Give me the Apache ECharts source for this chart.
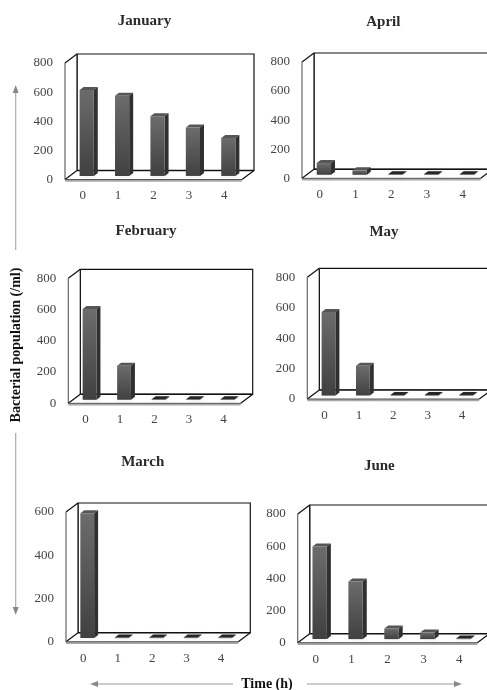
<!DOCTYPE html>
<html>
<head>
<meta charset="utf-8">
<style>html,body{margin:0;padding:0;background:#fff}#c{width:487px;height:690px;filter:blur(0.45px)}</style>
<script src="https://cdn.jsdelivr.net/npm/echarts@6/dist/echarts.min.js"></script>
</head>
<body>
<div id="c"></div>
<script>
const hours = ['0', '1', '2', '3', '4'];
const january  = [590, 551, 410, 332, 261];
const february = [580, 218, 3, 3, 3];
const march    = [578, 3, 3, 3, 3];
const april    = [80, 30, 3, 3, 3];
const may      = [548, 195, 3, 3, 3];
const june     = [576, 358, 66, 41, 3];
const yTitle = 'Bacterial population (/ml)';
const xTitle = 'Time (h)';

const panels = [
  {name:'January',  values:january,  max:800, l:65,    r:242,   t:63,    b:179.5, tx:144.5, ty:21.5},
  {name:'April',    values:april,    max:800, l:302,   r:480.7, t:62,    b:178.3, tx:383.3, ty:22.5},
  {name:'February', values:february, max:800, l:68.3,  r:240.7, t:278.3, b:403.3, tx:146,   ty:231.5},
  {name:'May',      values:may,      max:800, l:307.3, r:479.3, t:277.3, b:399,   tx:384,   ty:232.5},
  {name:'March',    values:march,    max:600, l:66,    r:238.3, t:512,   b:641.7, tx:142.7, ty:462.5},
  {name:'June',     values:june,     max:800, l:297.7, r:477.3, t:514,   b:642.7, tx:379.3, ty:466}
];
const DX = 12, DY = 9;
const serif = '"Liberation Serif", serif';

function poly(points, style, z2) {
  return {type:'polygon', shape:{points}, style, z2:z2 || 0};
}
function seg(x1, y1, x2, y2, stroke, lineWidth) {
  return {type:'line', shape:{x1, y1, x2, y2}, style:{stroke, lineWidth, fill:null}};
}
function renderFrame(params) {
  const c = params.coordSys;
  const l = c.x, r = c.x + c.width, t = c.y, b = c.y + c.height;
  const ink = '#111';
  return {type:'group', children:[
    {type:'rect', shape:{x:l + DX, y:t - DY, width:r - l, height:b - t}, style:{fill:'#fff', stroke:ink, lineWidth:1.2}},
    poly([[l,t],[l+DX,t-DY],[l+DX,b-DY],[l,b]], {fill:'#fff'}),
    poly([[l,b+2.2],[r,b+2.2],[r,b],[l,b]], {fill:'#a8a8a8'}),
    poly([[l,b],[l+DX,b-DY],[r+DX,b-DY],[r,b]], {fill:'#fff'}),
    seg(l, t, l + DX, t - DY, ink, 1.2),
    seg(l + DX, t - DY, l + DX, b - DY, ink, 1.2),
    seg(l, t, l, b, '#666', 1.2),
    seg(l, b, l + DX, b - DY, ink, 1.2),
    seg(l + DX, b - DY, r + DX, b - DY, ink, 1.4),
    seg(l, b, r, b, '#555', 1),
    seg(r, b, r + DX, b - DY, ink, 1.2)
  ]};
}
function renderBar(params, api) {
  const cat = api.value(0), val = api.value(1);
  const top = api.coord([cat, val]);
  const base = api.coord([cat, 0]);
  const w = api.size([1, 0])[0] * 0.4;
  const sx = DX / 3, sy = DY * 0.4;
  const x0 = top[0] + sx - w / 2, x1 = x0 + w;
  const yT = top[1] - sy, yB = base[1] - sy;
  const ox = DX / 3, oy = 3;
  const flat = yB - yT < 2;
  return {type:'group', children:[
    poly([[x0,yB],[x1,yB],[x1+ox,yB-oy],[x0+ox,yB-oy]], {fill:'rgba(0,0,0,0.25)', shadowBlur:4, shadowColor:'rgba(0,0,0,0.45)'}),
    poly([[x0,yT],[x0+ox,yT-oy],[x1+ox,yT-oy],[x1,yT]], {fill:flat ? '#262626' : '#565656'}),
    poly([[x1,yT],[x1+ox,yT-oy],[x1+ox,yB-oy],[x1,yB]], {fill:'#303030'}),
    {type:'rect', shape:{x:x0, y:yT, width:w, height:Math.max(yB - yT, 0.5)},
      style:{fill:new echarts.graphic.LinearGradient(0,0,0,1,[{offset:0,color:'#6c6c6c'},{offset:1,color:'#404040'}])}}
  ]};
}

const option = {
  animation:false,
  backgroundColor:'#fff',
  title:panels.map(p => ({
    text:p.name, left:p.tx, top:p.ty, padding:0, textAlign:'center', textVerticalAlign:'middle',
    textStyle:{fontFamily:serif, fontWeight:'bold', fontSize:15, color:'#2a2a2a'}
  })),
  grid:panels.map(p => ({left:p.l, top:p.t, width:p.r - p.l, height:p.b - p.t, containLabel:false})),
  xAxis:panels.map((p, i) => ({
    type:'category', gridIndex:i, data:hours,
    axisLine:{show:false}, axisTick:{show:false}, splitLine:{show:false},
    axisLabel:{margin:10, fontFamily:serif, fontSize:13, color:'#444'}
  })),
  yAxis:panels.map((p, i) => ({
    type:'value', gridIndex:i, min:0, max:p.max, interval:200,
    axisLine:{show:false}, axisTick:{show:false}, splitLine:{show:false},
    axisLabel:{margin:12, fontFamily:serif, fontSize:13, color:'#444'}
  })),
  series:panels.flatMap((p, i) => [
    {type:'custom', xAxisIndex:i, yAxisIndex:i, renderItem:renderFrame, data:[[0,0]], clip:false, silent:true, z:1},
    {type:'custom', name:p.name, xAxisIndex:i, yAxisIndex:i, renderItem:renderBar,
      encode:{x:0, y:1}, data:p.values.map((v, k) => [k, v]), clip:false, z:2}
  ]),
  graphic:[
    {type:'text', rotation:Math.PI/2, x:16, y:345, style:{text:yTitle, fontFamily:serif, fontWeight:'bold', fontSize:14, fill:'#111', align:'center', verticalAlign:'middle'}},
    {type:'text', x:267, y:684, style:{text:xTitle, fontFamily:serif, fontWeight:'bold', fontSize:14, fill:'#111', align:'center', verticalAlign:'middle'}},
    {type:'line', shape:{x1:15.7, y1:250, x2:15.7, y2:92}, style:{stroke:'#aaa', lineWidth:1.2}},
    {type:'polygon', shape:{points:[[15.7,85],[12.7,93],[18.7,93]]}, style:{fill:'#888'}},
    {type:'line', shape:{x1:15.7, y1:433, x2:15.7, y2:608}, style:{stroke:'#aaa', lineWidth:1.2}},
    {type:'polygon', shape:{points:[[15.7,615],[12.7,607],[18.7,607]]}, style:{fill:'#888'}},
    {type:'line', shape:{x1:233, y1:684, x2:97, y2:684}, style:{stroke:'#999', lineWidth:1.2}},
    {type:'polygon', shape:{points:[[90,684],[98,681],[98,687]]}, style:{fill:'#888'}},
    {type:'line', shape:{x1:307, y1:684, x2:455, y2:684}, style:{stroke:'#999', lineWidth:1.2}},
    {type:'polygon', shape:{points:[[462,684],[454,681],[454,687]]}, style:{fill:'#888'}}
  ]
};
echarts.init(document.getElementById('c'), null, {renderer:'canvas'}).setOption(option);
</script>
</body>
</html>
